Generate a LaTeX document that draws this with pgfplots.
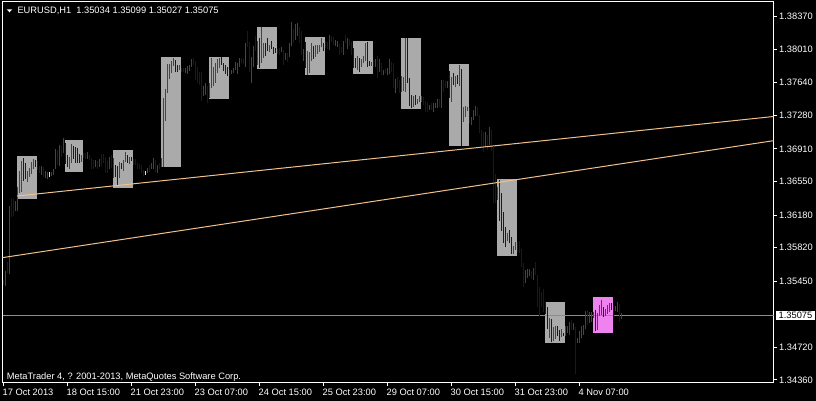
\documentclass[border=0pt]{standalone}
\usepackage{pgfplots}
\pgfplotsset{compat=1.18}
\usepackage{pgfplotstable}
\usepackage{fontspec}
\setmainfont{Liberation Sans}
\definecolor{barred}{RGB}{230,0,0}
\definecolor{barblue}{RGB}{0,0,230}
\definecolor{baryellow}{RGB}{255,255,0}
\definecolor{boxgray}{RGB}{170,170,170}
\definecolor{boxpink}{RGB}{238,130,238}
\definecolor{trend}{RGB}{242,192,140}
\definecolor{bidline}{RGB}{140,140,150}
\newcommand\tickfont{\fontsize{9.3}{11}\selectfont}

% i = bar index (H1), h = high, l = low, c = 0 blue / 1 red / 2 yellow
\pgfplotstableread{
i h l c
0 1.35463 1.35408 0
1 1.35562 1.35397 1
2 1.35662 1.35540 0
3 1.36280 1.35529 1
4 1.36368 1.36159 0
5 1.36357 1.36170 0
6 1.36335 1.36225 1
7 1.36490 1.36225 1
8 1.36666 1.36423 1
9 1.36777 1.36434 1
10 1.36810 1.36556 0
11 1.36755 1.36578 0
12 1.36666 1.36545 1
13 1.36700 1.36600 1
14 1.36766 1.36633 1
15 1.36799 1.36689 1
16 1.36788 1.36711 0
17 1.36777 1.36677 0
18 1.36722 1.36644 0
19 1.36722 1.36622 1
20 1.36711 1.36600 0
21 1.36666 1.36589 1
22 1.36655 1.36578 1
23 1.36655 1.36600 2
24 1.36655 1.36611 1
25 1.36689 1.36622 1
26 1.36909 1.36689 1
27 1.36898 1.36733 0
28 1.36953 1.36722 1
29 1.36942 1.36821 0
30 1.37031 1.36865 1
31 1.36975 1.36744 0
32 1.36843 1.36711 0
33 1.36821 1.36689 1
34 1.36964 1.36755 1
35 1.36942 1.36799 0
36 1.36931 1.36755 0
37 1.36920 1.36755 0
38 1.36854 1.36755 0
39 1.36843 1.36766 1
40 1.36865 1.36810 0
41 1.36865 1.36799 0
42 1.36876 1.36799 1
43 1.36843 1.36788 0
44 1.36810 1.36689 0
45 1.36788 1.36689 0
46 1.36788 1.36711 1
47 1.36777 1.36689 0
48 1.36799 1.36711 1
49 1.36854 1.36722 0
50 1.36854 1.36755 0
51 1.36821 1.36644 0
52 1.36777 1.36644 0
53 1.36821 1.36689 1
54 1.36843 1.36700 0
55 1.36810 1.36589 1
56 1.36733 1.36600 0
57 1.36722 1.36501 0
58 1.36766 1.36589 1
59 1.36755 1.36689 0
60 1.36788 1.36666 1
61 1.36876 1.36766 1
62 1.36843 1.36755 0
63 1.36821 1.36744 1
64 1.36821 1.36777 0
65 1.36799 1.36733 0
66 1.36799 1.36733 0
67 1.36755 1.36689 0
68 1.36744 1.36689 0
69 1.36733 1.36644 0
70 1.36677 1.36611 0
71 1.36666 1.36622 2
72 1.36700 1.36644 1
73 1.36733 1.36655 0
74 1.36755 1.36689 1
75 1.36810 1.36689 1
76 1.36788 1.36655 0
77 1.36733 1.36644 1
78 1.36755 1.36689 0
79 1.36810 1.36711 1
80 1.37472 1.36711 1
81 1.37572 1.37218 1
82 1.37848 1.37527 1
83 1.37848 1.37682 1
84 1.37881 1.37748 1
85 1.37914 1.37826 1
86 1.37892 1.37759 0
87 1.37837 1.37759 0
88 1.37837 1.37781 1
89 1.37804 1.37759 0
90 1.37804 1.37759 0
91 1.37804 1.37748 1
92 1.37826 1.37737 1
93 1.37837 1.37770 1
94 1.37903 1.37815 1
95 1.37914 1.37837 0
96 1.37881 1.37671 0
97 1.37815 1.37638 0
98 1.37759 1.37616 0
99 1.37759 1.37439 0
100 1.37605 1.37494 1
101 1.37638 1.37505 1
102 1.37605 1.37417 0
103 1.37638 1.37472 1
104 1.37914 1.37583 1
105 1.37815 1.37605 1
106 1.37859 1.37638 1
107 1.37903 1.37748 1
108 1.37914 1.37804 1
109 1.37925 1.37837 0
110 1.37859 1.37770 0
111 1.37837 1.37737 0
112 1.37815 1.37715 0
113 1.37781 1.37715 0
114 1.37781 1.37737 1
115 1.37804 1.37748 1
116 1.37870 1.37781 1
117 1.37859 1.37737 1
118 1.37914 1.37815 1
119 1.37914 1.37859 0
120 1.37903 1.37848 0
121 1.38079 1.37815 1
122 1.38212 1.38035 0
123 1.38090 1.37759 0
124 1.37925 1.37638 1
125 1.38046 1.37815 1
126 1.38157 1.37991 0
127 1.38101 1.37837 1
128 1.38135 1.37804 0
129 1.38256 1.37859 1
130 1.38079 1.37914 1
131 1.38079 1.37936 0
132 1.38135 1.37991 0
133 1.38057 1.37980 1
134 1.38101 1.38013 0
135 1.38035 1.37958 0
136 1.38024 1.37969 0
137 1.38013 1.37958 0
138 1.38024 1.37947 0
139 1.38035 1.37980 1
140 1.38002 1.37837 0
141 1.37969 1.37892 1
142 1.37969 1.37870 0
143 1.38079 1.37925 1
144 1.38311 1.38046 1
145 1.38234 1.38079 0
146 1.38289 1.38112 1
147 1.38300 1.38157 1
148 1.38256 1.38079 0
149 1.38212 1.37947 0
150 1.38013 1.37881 1
151 1.38090 1.37804 0
152 1.37991 1.37726 1
153 1.37980 1.37748 1
154 1.38079 1.37881 1
155 1.38046 1.37903 0
156 1.38057 1.37925 1
157 1.38057 1.37958 1
158 1.38057 1.37980 1
159 1.38135 1.38035 1
160 1.38079 1.37991 0
161 1.38101 1.38024 0
162 1.38090 1.38013 0
163 1.38168 1.38002 1
164 1.38157 1.38090 0
165 1.38146 1.38057 0
166 1.38112 1.38046 1
167 1.38101 1.38035 1
168 1.38068 1.37947 0
169 1.38035 1.37969 0
170 1.38101 1.37947 1
171 1.38168 1.38079 0
172 1.38135 1.38013 1
173 1.38124 1.38046 0
174 1.38090 1.37947 0
175 1.38024 1.37804 0
176 1.37914 1.37804 0
177 1.37936 1.37781 1
178 1.37914 1.37759 0
179 1.37903 1.37815 1
180 1.37936 1.37859 1
181 1.38079 1.37881 1
182 1.38090 1.37815 0
183 1.37881 1.37826 0
184 1.37870 1.37826 1
185 1.37892 1.37815 0
186 1.37903 1.37815 1
187 1.37936 1.37693 0
188 1.37903 1.37759 1
189 1.37859 1.37726 0
190 1.37781 1.37726 1
191 1.37793 1.37748 0
192 1.37804 1.37726 1
193 1.37903 1.37737 1
194 1.37870 1.37759 0
195 1.37859 1.37583 0
196 1.37682 1.37527 1
197 1.37704 1.37583 0
198 1.37671 1.37527 0
199 1.37715 1.37538 1
200 1.37704 1.37549 1
201 1.38135 1.37538 1
202 1.38135 1.37638 0
203 1.37693 1.37384 0
204 1.37505 1.37362 0
205 1.37494 1.37373 1
206 1.37505 1.37395 0
207 1.37461 1.37406 1
208 1.37494 1.37428 1
209 1.37494 1.37428 1
210 1.37483 1.37395 0
211 1.37439 1.37318 0
212 1.37428 1.37318 0
213 1.37395 1.37340 1
214 1.37417 1.37340 0
215 1.37417 1.37318 1
216 1.37417 1.37362 1
217 1.37461 1.37362 1
218 1.37461 1.37373 0
219 1.37671 1.37362 1
220 1.37671 1.37538 0
221 1.37660 1.37583 0
222 1.37660 1.37583 1
223 1.37770 1.37472 0
224 1.37704 1.37428 1
225 1.37748 1.37616 0
226 1.37715 1.37594 1
227 1.37726 1.37627 0
228 1.37837 1.37605 1
229 1.37793 1.36942 0
230 1.37373 1.37207 1
231 1.37384 1.37263 1
232 1.37373 1.37329 1
233 1.37362 1.37185 0
234 1.37263 1.37174 1
235 1.37340 1.37229 1
236 1.37384 1.37274 1
237 1.37373 1.37274 0
238 1.37285 1.37086 0
239 1.37119 1.36920 0
240 1.37097 1.36876 0
241 1.37097 1.36931 1
242 1.37064 1.36898 0
243 1.37152 1.36953 1
244 1.37119 1.36887 0
245 1.36931 1.36313 0
246 1.36633 1.36313 0
247 1.36490 1.36346 1
248 1.36567 1.36114 0
249 1.36423 1.36004 0
250 1.36214 1.35871 0
251 1.36048 1.35827 0
252 1.35982 1.35893 1
253 1.36015 1.35871 0
254 1.35938 1.35750 0
255 1.35838 1.35750 1
256 1.35882 1.35794 1
257 1.35882 1.35772 0
258 1.35893 1.35761 0
259 1.35805 1.35607 0
260 1.35651 1.35386 0
261 1.35573 1.35430 1
262 1.35584 1.35485 1
263 1.35584 1.35507 1
264 1.35562 1.35474 0
265 1.35595 1.35463 1
266 1.35662 1.35518 0
267 1.35518 1.35165 0
268 1.35386 1.35066 0
269 1.35330 1.35165 0
270 1.35364 1.35110 0
271 1.35220 1.35088 0
272 1.35165 1.34922 0
273 1.35044 1.34823 1
274 1.35033 1.34778 0
275 1.34944 1.34789 1
276 1.34955 1.34812 1
277 1.34955 1.34845 0
278 1.34911 1.34789 0
279 1.34922 1.34834 1
280 1.34878 1.34845 0
281 1.34955 1.34845 1
282 1.34955 1.34878 1
283 1.34999 1.34856 1
284 1.35021 1.34911 0
285 1.34988 1.34911 1
286 1.34944 1.34425 0
287 1.34823 1.34767 1
288 1.34900 1.34767 1
289 1.34955 1.34823 1
290 1.34966 1.34856 1
291 1.35121 1.34922 1
292 1.35132 1.34966 0
293 1.35110 1.34988 1
294 1.35110 1.34999 1
295 1.35110 1.35044 1
296 1.35132 1.34900 0
297 1.35099 1.34911 1
298 1.35187 1.35066 1
299 1.35242 1.35077 1
300 1.35165 1.35055 0
301 1.35143 1.35066 1
302 1.35187 1.35088 1
303 1.35209 1.35110 1
304 1.35209 1.35132 0
305 1.35187 1.35066 0
306 1.35176 1.35121 1
307 1.35220 1.35110 1
308 1.35198 1.34999 0
309 1.35099 1.35027 1
}\bars

\begin{document}
\begin{tikzpicture}[x=1pt,y=1pt]
\useasboundingbox (-2.5,-18) rectangle (813.5,383);
\fill[black] (-2.5,-18) rectangle (813.5,383);
\begin{axis}[
  at={(0pt,0pt)}, anchor=south west,
  scale only axis, width=771pt, height=381pt,
  xmin=-0.5, xmax=385, ymin=1.34326, ymax=1.38532,
  axis background/.style={fill=black},
  axis line style={white, line width=1pt},
  tick align=outside,
  major tick length=3pt,
  tick style={white, line width=1pt},
  xtick pos=left, ytick pos=right,
  xticklabel pos=left, yticklabel pos=right,
  minor tick num=0,
  xtick={0,32,64,96,128,160,192,224,256,288},
  xticklabels={17 Oct 2013, 18 Oct 15:00, 21 Oct 23:00, 23 Oct 07:00, 24 Oct 15:00, 25 Oct 23:00, 29 Oct 07:00, 30 Oct 15:00, 31 Oct 23:00, 4 Nov 07:00},
  ytick={1.34360,1.34720,1.35450,1.35820,1.36180,1.36550,1.36910,1.37280,1.37640,1.38010,1.38370},
  yticklabels={1.34360,1.34720,1.35450,1.35820,1.36180,1.36550,1.36910,1.37280,1.37640,1.38010,1.38370},
  xticklabel style={anchor=north west, inner sep=0pt, text=white, font=\tickfont, xshift=-1pt, yshift=-2.5pt},
  yticklabel style={anchor=west, inner sep=0pt, text=white, font=\tickfont, xshift=2.5pt},
  extra y ticks={1.35075}, extra y tick labels={1.35075},
  extra y tick style={major tick length=0pt, yticklabel style={fill=white, text=black, inner xsep=3pt, inner ysep=1.2pt, xshift=-0.5pt}},
]
% session boxes
\addplot[draw=none, fill=boxgray, forget plot] coordinates {(6.75,1.36832) (16.75,1.36832) (16.75,1.36357) (6.75,1.36357)} -- cycle;
\addplot[draw=none, fill=boxgray, forget plot] coordinates {(30.75,1.37008) (39.75,1.37008) (39.75,1.36655) (30.75,1.36655)} -- cycle;
\addplot[draw=none, fill=boxgray, forget plot] coordinates {(54.75,1.36898) (64.75,1.36898) (64.75,1.36479) (54.75,1.36479)} -- cycle;
\addplot[draw=none, fill=boxgray, forget plot] coordinates {(78.75,1.37925) (88.75,1.37925) (88.75,1.36711) (78.75,1.36711)} -- cycle;
\addplot[draw=none, fill=boxgray, forget plot] coordinates {(102.75,1.37925) (112.75,1.37925) (112.75,1.37461) (102.75,1.37461)} -- cycle;
\addplot[draw=none, fill=boxgray, forget plot] coordinates {(126.75,1.38256) (136.75,1.38256) (136.75,1.37793) (126.75,1.37793)} -- cycle;
\addplot[draw=none, fill=boxgray, forget plot] coordinates {(150.75,1.38146) (160.75,1.38146) (160.75,1.37726) (150.75,1.37726)} -- cycle;
\addplot[draw=none, fill=boxgray, forget plot] coordinates {(174.75,1.38101) (184.75,1.38101) (184.75,1.37737) (174.75,1.37737)} -- cycle;
\addplot[draw=none, fill=boxgray, forget plot] coordinates {(198.75,1.38135) (208.75,1.38135) (208.75,1.37351) (198.75,1.37351)} -- cycle;
\addplot[draw=none, fill=boxgray, forget plot] coordinates {(222.75,1.37848) (232.75,1.37848) (232.75,1.36942) (222.75,1.36942)} -- cycle;
\addplot[draw=none, fill=boxgray, forget plot] coordinates {(246.75,1.36578) (256.75,1.36578) (256.75,1.35728) (246.75,1.35728)} -- cycle;
\addplot[draw=none, fill=boxgray, forget plot] coordinates {(270.75,1.35220) (280.75,1.35220) (280.75,1.34767) (270.75,1.34767)} -- cycle;
\addplot[draw=none, fill=boxpink, forget plot] coordinates {(294.75,1.35275) (304.75,1.35275) (304.75,1.34878) (294.75,1.34878)} -- cycle;
% bid line
\addplot[bidline, line width=1pt, forget plot] coordinates {(-0.5,1.35075) (385,1.35075)};
% bars (high-low)
\addplot[barblue, line width=1pt, mark=none, forget plot, restrict expr to domain={\thisrow{c}}{0:0},
  quiver={u=0, v=\thisrow{h}-\thisrow{l}}] table[x=i, y=l] {\bars};
\addplot[barred, line width=1pt, mark=none, forget plot, restrict expr to domain={\thisrow{c}}{1:1},
  quiver={u=0, v=\thisrow{h}-\thisrow{l}}] table[x=i, y=l] {\bars};
\addplot[baryellow, line width=1pt, mark=none, forget plot, restrict expr to domain={\thisrow{c}}{2:2},
  quiver={u=0, v=\thisrow{h}-\thisrow{l}}] table[x=i, y=l] {\bars};
% trend lines
\addplot[trend, line width=1pt, forget plot] coordinates {(6.75,1.36390) (385,1.37268)};
\addplot[trend, line width=1pt, forget plot] coordinates {(-0.5,1.35710) (385,1.37001)};
\end{axis}
\fill[white] (4.2,373.7) -- (9.8,373.7) -- (7.0,370.7) -- cycle;
\node[anchor=base west, inner sep=0pt, text=white, font=\tickfont] at (14.8,369) {EURUSD,H1\ \ 1.35034 1.35099 1.35027 1.35075};
\node[anchor=base west, inner sep=0pt, text=white, font=\tickfont] at (4.2,3) {MetaTrader 4, ? 2001-2013, MetaQuotes Software Corp.};
\end{tikzpicture}
\end{document}
